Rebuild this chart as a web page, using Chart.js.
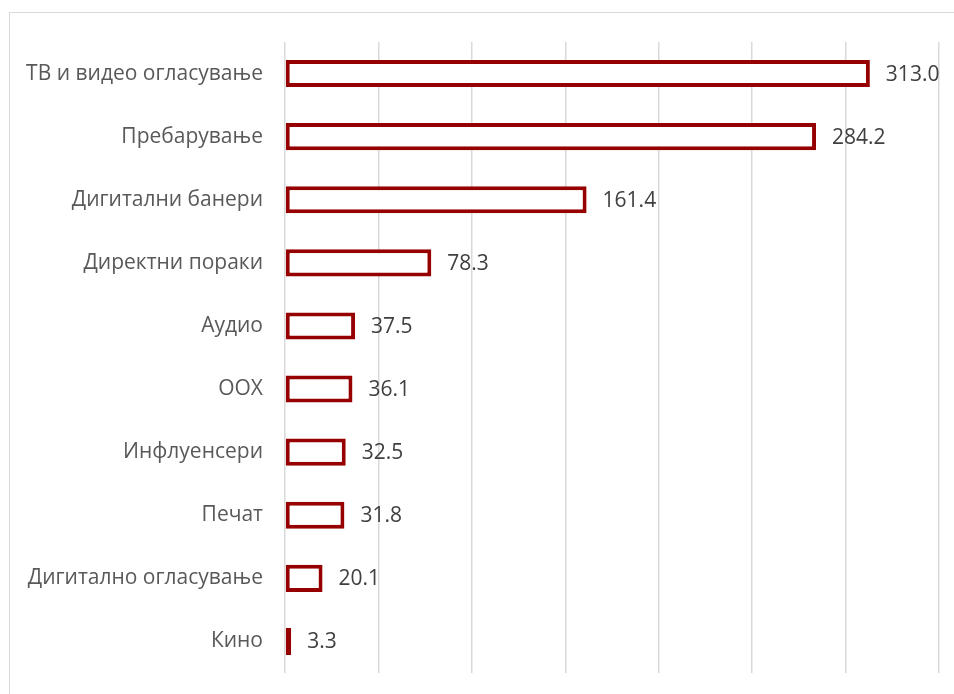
<!DOCTYPE html>
<html>
<head>
<meta charset="utf-8">
<script src="https://cdn.jsdelivr.net/npm/chart.js@4"></script>
<style>
  html, body { margin: 0; padding: 0; background: #fff; }
  #wrap { position: absolute; left: 0; top: 0; width: 954px; height: 694px; }
  #frame { position: absolute; left: 9px; top: 12px; right: 0; bottom: 0;
           border-left: 1.5px solid #d9d9d9; border-top: 1.5px solid #d9d9d9; }
  canvas { position: absolute; left: 0; top: 0; }
</style>
</head>
<body>
<div id="wrap">
  <div id="frame"></div>
  <canvas id="c" width="954" height="694"></canvas>
</div>
<script>
const categories = [
  'ТВ и видео огласување',
  'Пребарување',
  'Дигитални банери',
  'Директни пораки',
  'Аудио',
  'OOX',
  'Инфлуенсери',
  'Печат',
  'Дигитално огласување',
  'Кино'
];
const values = [313.0, 284.2, 161.4, 78.3, 37.5, 36.1, 32.5, 31.8, 20.1, 3.3];
const axisMax = 350;
const axisStep = 50;

const FONT = '"Open Sans", "Noto Sans", sans-serif';

// Writes each bar's value just past its end
const valueLabels = {
  id: 'valueLabels',
  afterDatasetsDraw(chart) {
    const ctx = chart.ctx;
    const meta = chart.getDatasetMeta(0);
    ctx.save();
    ctx.font = '21px ' + FONT;
    ctx.fillStyle = '#404040';
    ctx.textAlign = 'left';
    ctx.textBaseline = 'middle';
    meta.data.forEach((bar, i) => {
      ctx.fillText(values[i].toFixed(1), bar.x + 16, bar.y + 1);
    });
    ctx.restore();
  }
};

new Chart(document.getElementById('c'), {
  type: 'bar',
  data: {
    labels: categories,
    datasets: [{
      data: values,
      backgroundColor: '#ffffff',
      borderColor: '#960000',
      borderWidth: 4,
      borderSkipped: false,
      barPercentage: 0.43,
      categoryPercentage: 1.0
    }]
  },
  options: {
    indexAxis: 'y',
    responsive: false,
    animation: false,
    layout: { padding: { left: 0, right: 15, top: 42, bottom: 21 } },
    plugins: { legend: { display: false }, tooltip: { enabled: false } },
    scales: {
      x: {
        min: 0,
        max: axisMax,
        ticks: { display: false, stepSize: axisStep },
        grid: { color: '#d9d9d9', lineWidth: 1.5, drawTicks: false },
        border: { display: false },
        afterFit(s) { s.height = 0; s.paddingTop = 0; s.paddingBottom = 0; }
      },
      y: {
        ticks: {
          color: '#595959',
          font: { family: FONT, size: 21 },
          padding: 22
        },
        grid: { display: false, drawTicks: false },
        border: { display: false },
        afterFit(s) { s.width = 285; s.paddingTop = 0; s.paddingBottom = 0; }
      }
    }
  },
  plugins: [valueLabels]
});
</script>
</body>
</html>
